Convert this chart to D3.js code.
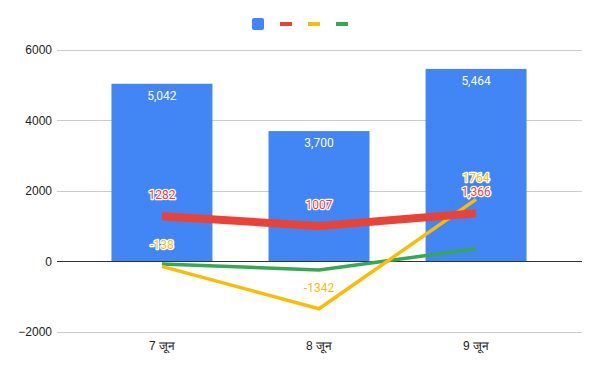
<!DOCTYPE html>
<html><head><meta charset="utf-8">
<script src="https://cdn.jsdelivr.net/npm/d3@7"></script>
<style>body{margin:0;background:#fff}svg{display:block}</style>
</head><body>
<svg id="c" width="600" height="371"></svg>
<script>
const categories = ["7 जून", "8 जून", "9 जून"];
const barValues = [5042, 3700, 5464];
const barLabels = ["5,042", "3,700", "5,464"];
const redValues = [1282, 1007, 1366];
const redLabels = ["1282", "1007", "1,366"];
const yellowValues = [-138, -1342, 1764];
const yellowLabels = ["-138", "-1342", "1764"];
const greenValues = [-70, -240, 360];
const yTicks = [-2000, 0, 2000, 4000, 6000];

const svg = d3.select("#c");
const left = 57, right = 582;
const y = d3.scaleLinear().domain([-2000, 6000]).range([332, 50]);
const x = d3.scaleBand().domain(categories).range([83.5, 554.5]).paddingInner(0.357).paddingOuter(0.178);
const cx = d => x(d) + x.bandwidth() / 2;

const ax = d3.axisLeft(y).tickValues(yTicks).tickSize(0).tickPadding(0).tickFormat(d3.format("d"));
const g = svg.append("g").attr("transform", `translate(${left},0)`);
g.call(ax);
g.select(".domain").remove();
g.selectAll(".tick line").remove();
g.selectAll(".tick text").attr("x", -5).attr("font-family", "Liberation Sans, Arial, sans-serif").attr("font-size", 12).attr("fill", "#222");
svg.append("g").selectAll("line").data(yTicks.filter(d => d !== 0)).join("line")
  .attr("x1", left).attr("x2", right).attr("y1", d => y(d)).attr("y2", d => y(d))
  .attr("stroke", "#ccc").attr("stroke-width", 1).attr("shape-rendering", "crispEdges");

svg.append("g").selectAll("rect").data(barValues).join("rect")
  .attr("x", (d, i) => x(categories[i])).attr("width", x.bandwidth())
  .attr("y", d => y(d)).attr("height", d => y(0) - y(d))
  .attr("fill", "#4285f4");

svg.append("line").attr("x1", left).attr("x2", right).attr("y1", y(0)).attr("y2", y(0))
  .attr("stroke", "#333").attr("stroke-width", 1).attr("shape-rendering", "crispEdges");

const line = d3.line().x((d, i) => cx(categories[i])).y(d => y(d));
svg.append("path").datum(greenValues).attr("d", line).attr("fill", "none").attr("stroke", "#34a853").attr("stroke-width", 3.5);
svg.append("path").datum(yellowValues).attr("d", line).attr("fill", "none").attr("stroke", "#fbbc04").attr("stroke-width", 3.5);
svg.append("path").datum(redValues).attr("d", line).attr("fill", "none").attr("stroke", "#ea4335").attr("stroke-width", 8);

svg.append("g").selectAll("text").data(barValues).join("text")
  .attr("x", (d, i) => cx(categories[i])).attr("y", d => y(d) + 16)
  .attr("text-anchor", "middle").attr("font-family", "Roboto, sans-serif").attr("font-size", 12)
  .attr("fill", "#fff").text((d, i) => barLabels[i]);

function lineLabels(vals, labels, color) {
  const gg = svg.append("g");
  gg.selectAll("text.h").data(vals).join("text").attr("class", "h")
    .attr("x", (d, i) => cx(categories[i])).attr("y", d => y(d) - 17)
    .attr("text-anchor", "middle").attr("font-family", "Roboto, sans-serif").attr("font-size", 12)
    .attr("fill", "none").attr("stroke", "#fff").attr("stroke-width", 2.5).attr("stroke-linejoin", "round")
    .text((d, i) => labels[i]);
  gg.selectAll("text.t").data(vals).join("text").attr("class", "t")
    .attr("x", (d, i) => cx(categories[i])).attr("y", d => y(d) - 17)
    .attr("text-anchor", "middle").attr("font-family", "Roboto, sans-serif").attr("font-size", 12)
    .attr("fill", color).text((d, i) => labels[i]);
}
lineLabels(redValues, redLabels, "#ea4335");
lineLabels(yellowValues, yellowLabels, "#fbbc04");

svg.append("g").selectAll("text").data(categories).join("text")
  .attr("x", d => cx(d)).attr("y", 350).attr("text-anchor", "middle")
  .attr("font-family", "Liberation Sans, Arial, sans-serif").attr("font-size", 12).attr("fill", "#222")
  .text(d => d);

const leg = svg.append("g");
leg.append("rect").attr("x", 252).attr("y", 18).attr("width", 12).attr("height", 12).attr("rx", 2).attr("fill", "#4285f4");
const legColors = ["#ea4335", "#fbbc04", "#34a853"];
leg.selectAll("line").data(legColors).join("line")
  .attr("x1", (d, i) => 280 + i * 28).attr("x2", (d, i) => 292 + i * 28)
  .attr("y1", 24).attr("y2", 24).attr("stroke", d => d).attr("stroke-width", 4);
</script>
</body></html>
